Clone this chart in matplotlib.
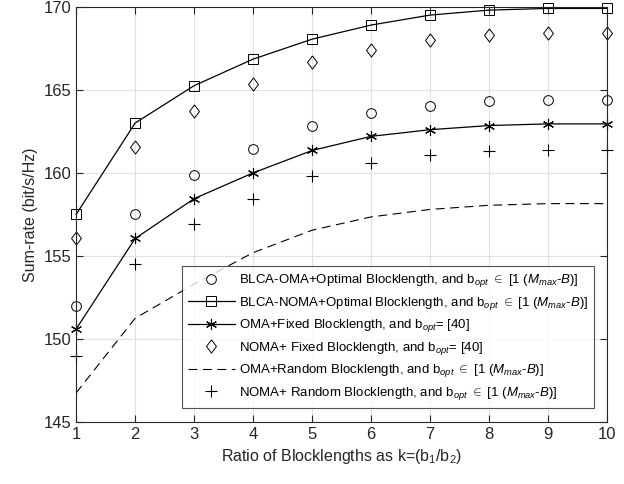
import numpy as np
import matplotlib
matplotlib.use("Agg")
import matplotlib.pyplot as plt

plt.rcParams['font.family'] = ['Liberation Sans', 'DejaVu Sans']
plt.rcParams['mathtext.fontset'] = 'custom'
plt.rcParams['mathtext.rm'] = 'Liberation Sans'
plt.rcParams['mathtext.it'] = 'Liberation Sans:italic'

k = [1, 2, 3, 4, 5, 6, 7, 8, 9, 10]
blca_oma = [152.0, 157.5, 159.85, 161.45, 162.8, 163.6, 164.0, 164.3, 164.4, 164.4]
blca_noma = [157.5, 163.0, 165.25, 166.85, 168.05, 168.9, 169.5, 169.8, 169.9, 169.9]
oma_fixed = [150.6, 156.05, 158.45, 160.0, 161.35, 162.2, 162.6, 162.85, 162.95, 162.95]
noma_fixed = [156.1, 161.55, 163.75, 165.35, 166.65, 167.4, 168.0, 168.3, 168.4, 168.4]
oma_random = [146.75, 151.25, 153.3, 155.2, 156.55, 157.35, 157.8, 158.05, 158.15, 158.15]
noma_random = [149.0, 154.5, 156.9, 158.45, 159.8, 160.6, 161.05, 161.3, 161.4, 161.4]

rng_txt = r'b$_{opt}$ $\in$ [1 ($M_{max}$-$B$)]'
labels = [
    "BLCA-OMA+Optimal Blocklength, and " + rng_txt,
    "BLCA-NOMA+Optimal Blocklength, and " + rng_txt,
    "OMA+Fixed Blocklength, and b$_{opt}$= [40]",
    "NOMA+ Fixed Blocklength, and b$_{opt}$= [40]",
    "OMA+Random Blocklength, and " + rng_txt,
    "NOMA+ Random Blocklength, and " + rng_txt,
]

fig = plt.figure(figsize=(6.24, 4.84), dpi=100)
ax = fig.add_axes([0.122, 0.128, 0.851, 0.858])

asterisk = (6, 2, 0)
diamond = [(0, 1), (0.75, 0), (0, -1), (-0.75, 0), (0, 1)]
ax.plot(k, blca_oma, linestyle='none', marker='o', ms=7, mfc='none', mec='black', mew=0.7,
        label=labels[0], clip_on=False)
ax.plot(k, blca_noma, color='black', lw=0.9, marker='s', ms=6.5, mfc='none', mec='black', mew=0.7,
        label=labels[1], clip_on=False)
ax.plot(k, oma_fixed, color='black', lw=0.9, marker=asterisk, ms=8, mec='black', mew=0.8,
        label=labels[2], clip_on=False)
ax.plot(k, noma_fixed, linestyle='none', marker=diamond, ms=9.5, mfc='none', mec='black', mew=0.7,
        label=labels[3], clip_on=False)
ax.plot(k, oma_random, color='black', lw=0.8, linestyle=(0, (8, 5)), label=labels[4])
ax.plot(k, noma_random, linestyle='none', marker='+', ms=8, mec='black', mew=0.8,
        label=labels[5], clip_on=False)

ax.set_xlim(1, 10)
ax.set_ylim(145, 170)
ax.set_xticks(k)
ax.set_yticks([145, 150, 155, 160, 165, 170])
ax.grid(True, color='#e0e0e0', lw=0.8)
ax.set_axisbelow(True)
ax.tick_params(direction='in', labelsize=12, top=True, right=True, length=5, color='#262626',
               labelcolor='#262626')
for s in ax.spines.values():
    s.set_color('#262626')
    s.set_linewidth(0.8)

ax.set_xlabel("Ratio of Blocklengths as k=(b$_1$/b$_2$)", fontsize=11.5, color='#262626')
ax.set_ylabel("Sum-rate (bit/s/Hz)", fontsize=11.5, color='#262626')

leg = ax.legend(loc='lower right', bbox_to_anchor=(0.976, 0.034), fontsize=9.5, frameon=True,
                fancybox=False, edgecolor='#262626', handlelength=3.6, labelspacing=0.42,
                borderpad=0.45, handletextpad=0.3, borderaxespad=0)
leg.get_frame().set_linewidth(0.8)

fig.savefig("out.png", dpi=100)
